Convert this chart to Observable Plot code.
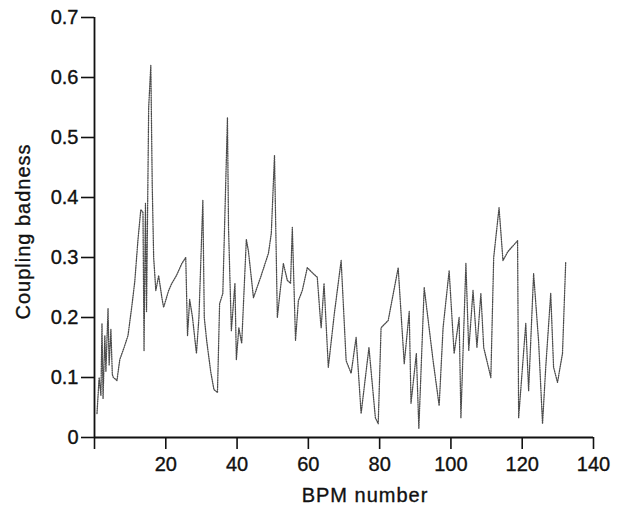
<!DOCTYPE html>
<html>
<head>
<meta charset="utf-8">
<script src="https://cdn.jsdelivr.net/npm/d3@7"></script>
<script src="https://cdn.jsdelivr.net/npm/@observablehq/plot@0.6"></script>
<style>
  html, body { margin: 0; padding: 0; background: #fff; }
  #chart svg { display: block; }
  #chart svg text { stroke: #111; stroke-width: 0.35px; }
</style>
</head>
<body>
<div id="chart"></div>
<script>
const bpm = [0.7,1.3,1.8,2.1,2.4,2.9,3.2,3.8,4.1,4.6,5.0,5.3,6.3,7.1,8.3,9.4,10.5,11.3,12.2,13.0,13.6,13.9,14.3,14.6,15.2,15.8,16.2,16.6,17.2,18.0,18.9,19.4,20.8,21.7,23.0,24.5,25.6,26.1,26.7,27.5,28.6,29.3,30.4,30.8,31.5,32.6,33.5,34.5,35.1,36.0,37.3,37.6,38.4,39.4,39.8,40.5,41.3,42.6,43.2,44.6,46.6,48.8,49.6,50.5,51.3,52.1,53.0,54.1,55.0,55.5,56.4,57.2,58.3,59.7,61.4,62.5,63.4,63.6,64.4,65.6,67.3,69.2,70.6,72.0,73.4,74.8,77.0,78.8,79.6,80.4,82.4,85.2,86.9,88.3,88.8,90.3,91.0,92.5,95.0,96.7,97.8,99.5,100.9,102.3,102.8,104.2,105.0,106.2,107.3,108.4,109.2,111.2,112.0,113.5,114.6,116.0,118.7,119.0,121.0,121.8,123.2,124.6,125.7,126.6,128.0,128.8,129.9,131.3,132.2];
const badness = [0.04,0.10,0.07,0.19,0.065,0.17,0.11,0.215,0.12,0.18,0.105,0.10,0.095,0.13,0.15,0.17,0.22,0.26,0.33,0.38,0.375,0.145,0.39,0.21,0.55,0.62,0.42,0.30,0.245,0.27,0.233,0.217,0.245,0.257,0.27,0.29,0.30,0.17,0.23,0.20,0.14,0.20,0.395,0.20,0.16,0.11,0.08,0.075,0.223,0.24,0.533,0.35,0.178,0.257,0.13,0.183,0.157,0.33,0.31,0.233,0.267,0.307,0.34,0.47,0.20,0.245,0.29,0.262,0.257,0.35,0.162,0.228,0.245,0.283,0.273,0.267,0.195,0.183,0.257,0.117,0.207,0.295,0.128,0.107,0.167,0.04,0.15,0.033,0.023,0.183,0.195,0.283,0.123,0.21,0.057,0.14,0.015,0.25,0.128,0.053,0.183,0.278,0.14,0.20,0.033,0.29,0.145,0.245,0.15,0.24,0.15,0.10,0.30,0.383,0.295,0.31,0.328,0.033,0.19,0.078,0.273,0.16,0.023,0.117,0.24,0.117,0.092,0.14,0.292];
const xTicks = [0,20,40,60,80,100,120,140];
const yTicks = [0,0.1,0.2,0.3,0.4,0.5,0.6,0.7];
const xTitle = "BPM number";
const yTitle = "Coupling badness";

const idx = bpm.map((_, i) => i);
const font = "Liberation Sans, Arial, Helvetica, sans-serif";

const chart = Plot.plot({
  width: 619,
  height: 516,
  marginLeft: 94,
  marginRight: 26,
  marginTop: 17,
  marginBottom: 79,
  style: { fontFamily: font, fontSize: "20px", color: "#111", background: "#fff" },
  x: { domain: [0, 140] },
  y: { domain: [0, 0.7] },
  marks: [
    Plot.line(idx, { x: i => bpm[i], y: i => badness[i], stroke: "#4a4a4a", strokeWidth: 1.3, strokeDasharray: "1,1.3" }),
    Plot.ruleX([0], { stroke: "#111", strokeWidth: 1.8 }),
    Plot.ruleY([0], { stroke: "#111", strokeWidth: 1.8 }),
    Plot.axisX({ ticks: xTicks, tickSize: 12, tickPadding: 7, tickFormat: d => d === 0 ? "" : String(d), fontSize: 20, label: null, strokeWidth: 1.6 }),
    Plot.axisY({ ticks: yTicks, tickSize: 13, tickPadding: 3, tickFormat: d => d === 0 ? "0" : d.toFixed(1), fontSize: 20, label: null, strokeWidth: 1.6 }),
    Plot.text([xTitle], { frameAnchor: "bottom", dx: 21, dy: 64, text: d => d, fontSize: 20, textAnchor: "middle" }),
    Plot.text([yTitle], { frameAnchor: "left", dx: -71, dy: 4, text: d => d, fontSize: 20, rotate: -90, textAnchor: "middle" })
  ]
});
document.getElementById("chart").appendChild(chart);
chart.querySelectorAll("text").forEach(t => {
  if (t.textContent === xTitle || t.textContent === yTitle) t.setAttribute("letter-spacing", "1");
});
</script>
</body>
</html>
